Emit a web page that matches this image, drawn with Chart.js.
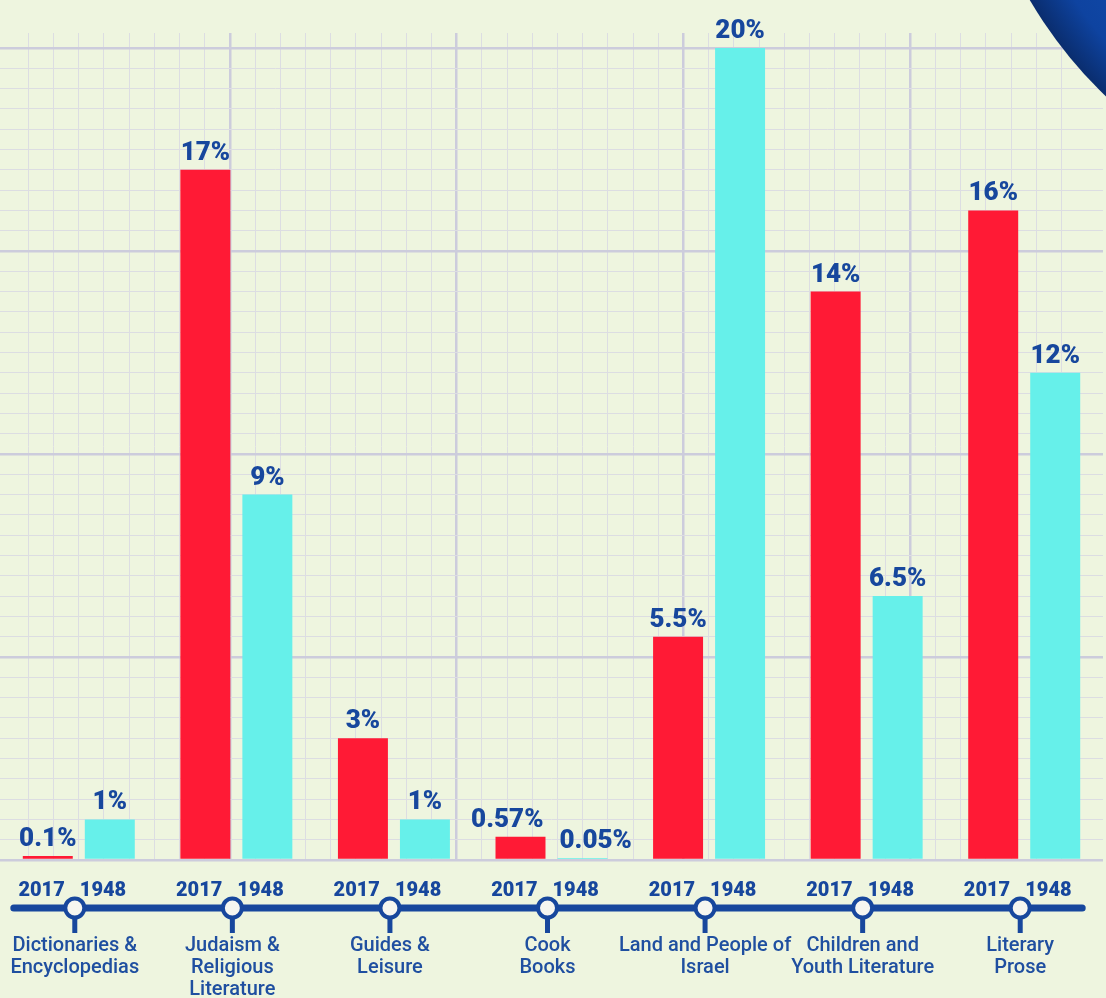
<!DOCTYPE html>
<html><head><meta charset="utf-8">
<script src="https://cdn.jsdelivr.net/npm/chart.js@4/dist/chart.umd.min.js"></script>
<style>
html,body{margin:0;padding:0;background:#eef5df;}
#wrap{width:1106px;height:998px;position:relative;}
</style></head><body>
<div id="wrap"><canvas id="c"></canvas></div>
<script>
// ---- data ----
const categories = [
  ['Dictionaries &','Encyclopedias'],
  ['Judaism &','Religious','Literature'],
  ['Guides &','Leisure'],
  ['Cook','Books'],
  ['Land and People of','Israel'],
  ['Children and','Youth Literature'],
  ['Literary','Prose']
];
const seriesNames = ['2017','1948'];
const values2017 = [0.1, 17, 3, 0.57, 5.5, 14, 16];
const values1948 = [1, 9, 1, 0.05, 20, 6.5, 12];

// ---- styles ----
const BLUE = '#17479d';
const TEXT_BLUE = '#1f4fa0';
const RED = '#ff1a35';
const CYAN = '#66f0ea';
const GRID_MINOR = '#dcdde2';
const GRID_MAJOR = '#ccccdc';

const isMult = (v, m) => Math.abs(v / m - Math.round(v / m)) < 1e-6;

const valueLabels = {
  id: 'valueLabels',
  afterDatasetsDraw(chart) {
    const ctx = chart.ctx;
    ctx.save();
    ctx.font = '900 26px Roboto, "Open Sans", sans-serif';
    ctx.fillStyle = BLUE;
    ctx.textAlign = 'center';
    ctx.textBaseline = 'alphabetic';
    const ds = chart.data.datasets;
    const m0 = chart.getDatasetMeta(0).data, m1 = chart.getDatasetMeta(1).data;
    for (let i = 0; i < m0.length; i++) {
      const a = m0[i], b = m1[i];
      const ta = ds[0].data[i] + '%', tb = ds[1].data[i] + '%';
      let xa = a.x, xb = b.x;
      const wa = ctx.measureText(ta).width, wb = ctx.measureText(tb).width;
      const need = wa / 2 + wb / 2 + 16 - (b.x - a.x);
      if (need > 0 && Math.abs(a.y - b.y) < 30) { xa -= need / 2; xb += need / 2; }
      ctx.fillText(ta, xa, a.y - 10);
      ctx.fillText(tb, xb, b.y - 10);
    }
    ctx.restore();
  }
};

const timeline = {
  id: 'timeline',
  afterDraw(chart) {
    const ctx = chart.ctx;
    const xs = chart.scales.x;
    const ca = chart.chartArea;
    const ly = ca.bottom + 48;
    const n = chart.data.labels.length;
    ctx.save();
    ctx.strokeStyle = BLUE;
    ctx.lineWidth = 7;
    ctx.lineCap = 'round';
    ctx.beginPath();
    ctx.moveTo(xs.getPixelForValue(0) - 65, ly);
    ctx.lineTo(xs.getPixelForValue(n - 1) + 58, ly);
    ctx.stroke();
    ctx.lineCap = 'butt';
    const ds = chart.data.datasets;
    for (let i = 0; i < n; i++) {
      const cx = xs.getPixelForValue(i) - 4;
      ctx.lineWidth = 5;
      ctx.beginPath();
      ctx.moveTo(cx, ly + 10);
      ctx.lineTo(cx, ly + 25);
      ctx.stroke();
      ctx.beginPath();
      ctx.arc(cx, ly, 9.5, 0, Math.PI * 2);
      ctx.fillStyle = '#f6f6f0';
      ctx.fill();
      ctx.lineWidth = 4;
      ctx.stroke();
      ctx.fillStyle = BLUE;
      ctx.font = '900 20px Roboto, "Open Sans", sans-serif';
      ctx.textBaseline = 'middle';
      ctx.textAlign = 'right';
      ctx.fillText(ds[0].label, cx - 10, ly - 17);
      ctx.textAlign = 'left';
      ctx.fillText(ds[1].label, cx + 5, ly - 17);
    }
    const acx = chart.width + 314, acy = -230, ar = 453;
    const g = ctx.createRadialGradient(acx, acy, 300, acx, acy, ar);
    g.addColorStop(0, '#1450b0');
    g.addColorStop(0.75, '#0e43a0');
    g.addColorStop(1, '#0a2d6e');
    ctx.beginPath();
    ctx.arc(acx, acy, ar, 0, Math.PI * 2);
    ctx.fillStyle = g;
    ctx.fill();
    ctx.restore();
  }
};

new Chart(document.getElementById('c'), {
  type: 'bar',
  data: {
    labels: categories,
    datasets: [
      { label: seriesNames[0], data: values2017, backgroundColor: RED, borderWidth: 0,
        categoryPercentage: 0.787, barPercentage: 0.806 },
      { label: seriesNames[1], data: values1948, backgroundColor: CYAN, borderWidth: 0,
        categoryPercentage: 0.787, barPercentage: 0.806 }
    ]
  },
  options: {
    responsive: true,
    maintainAspectRatio: false,
    animation: false,
    layout: { autoPadding: false, padding: { top: 33, left: 0, right: 3, bottom: 0 } },
    plugins: { legend: { display: false }, tooltip: { enabled: false } },
    scales: {
      x: {
        grid: { display: false, drawTicks: false },
        border: { display: false },
        ticks: {
          color: TEXT_BLUE,
          font: { family: 'Roboto', size: 20, weight: '500', lineHeight: 22 / 20 },
          padding: 75, maxRotation: 0, minRotation: 0, autoSkip: false, labelOffset: -4
        },
        afterFit(s) { s.height = 138; s.paddingLeft = 0; s.paddingRight = 0; }
      },
      xg: {
        type: 'linear', axis: 'x', position: 'top',
        min: -0.12, max: 43.65, offset: false,
        border: { display: false },
        ticks: { display: false, stepSize: 1, autoSkip: false },
        grid: {
          offset: false, drawTicks: false,
          color: c => {
            const v = c.tick ? c.tick.value : 0;
            if (v <= 0 || !isMult(v, 1)) return 'rgba(0,0,0,0)';
            return isMult(v, 9) ? GRID_MAJOR : GRID_MINOR;
          },
          lineWidth: c => (c.tick && isMult(c.tick.value, 9)) ? 2.5 : 1
        },
        afterFit(s) { s.height = 0; s.paddingLeft = 0; s.paddingRight = 0; }
      },
      y: {
        min: 0, max: 20.37,
        border: { display: false },
        ticks: { display: false, stepSize: 0.5, autoSkip: false },
        grid: {
          drawTicks: false,
          color: c => {
            const v = c.tick ? c.tick.value : 0;
            if (v > 20.01) return 'rgba(0,0,0,0)';
            return isMult(v, 5) ? GRID_MAJOR : GRID_MINOR;
          },
          lineWidth: c => (c.tick && isMult(c.tick.value, 5)) ? 2.5 : 1
        },
        afterFit(s) { s.width = 0; s.paddingTop = 0; s.paddingBottom = 0; }
      }
    }
  },
  plugins: [valueLabels, timeline]
});
</script>
</body></html>
